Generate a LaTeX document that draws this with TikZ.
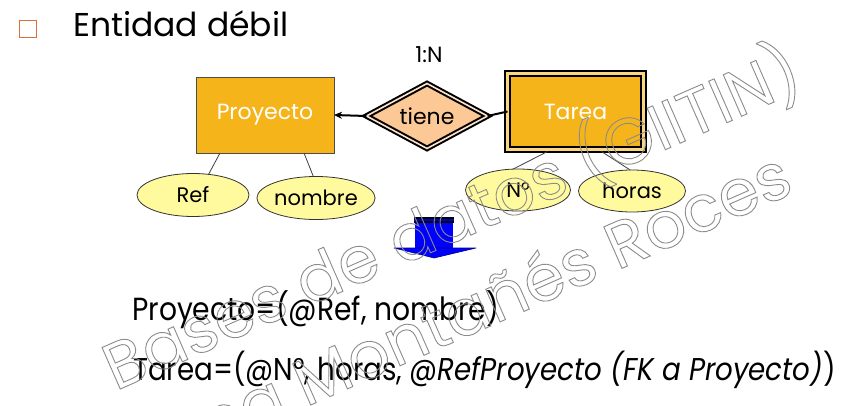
\documentclass[tikz,border=0pt]{standalone}
\usepackage{fontspec}
\setmainfont{Poppins}
\newfontfamily\bodyfont{Poppins}[FakeStretch=0.88]
\usetikzlibrary{shapes.geometric,calc,arrows.meta}
\definecolor{gold}{HTML}{F5B41A}
\definecolor{peach}{HTML}{FBC896}
\definecolor{attrfill}{HTML}{FFFA9E}
\definecolor{bulletcol}{HTML}{D9703C}
\definecolor{wmgray}{HTML}{8C8C8C}
\newcommand\outl[1]{\special{pdf:literal direct 1 Tr 0.9 w}#1\special{pdf:literal direct 0 Tr}}
\tikzset{
  entity/.style={rectangle, fill=gold, text=white, inner sep=0pt, outer sep=0pt,
    font=\fontsize{22}{26}\selectfont},
  attr/.style={ellipse, draw=black!80, line width=0.8pt, fill=attrfill, inner sep=0pt,
    outer sep=0pt, font=\fontsize{21}{25}\selectfont},
  rel/.style={diamond, aspect=1.9, fill=peach, draw=black, line width=2pt,
    double=peach!50!white, double distance=1.6pt, inner sep=0pt, outer sep=0pt,
    minimum width=121pt, minimum height=65pt, font=\fontsize{22}{26}\selectfont},
  attrline/.style={draw=black!75, line width=0.8pt},
  bodytext/.style={anchor=base west, inner sep=0pt, font=\bodyfont\fontsize{32}{38}\selectfont},
  watermark/.style={anchor=base east, inner sep=0pt, text=wmgray, rotate=23.7,
    font=\fontsize{65}{70}\selectfont}
}
\begin{document}
\begin{tikzpicture}[x=1pt,y=-1pt]
\useasboundingbox (0,0) rectangle (843,406);
\fill[white] (0,0) rectangle (843,406);

% title
\node[draw=bulletcol, line width=1.5pt, minimum size=17pt, inner sep=0pt] (bul) at (28,29) {};
\node[anchor=base west, inner sep=0pt, font=\fontsize{33}{40}\selectfont] (title) at (73,37) {Entidad débil};

% entities
\node[entity, draw=black!70, line width=0.8pt, minimum width=138pt, minimum height=76pt] (pr) at (265,115) {Proyecto};
\node[entity, draw=black, line width=2.4pt, double=gold!55!white, double distance=2.2pt,
  minimum width=136pt, minimum height=76pt] (ta) at (575.5,111.5) {Tarea};

% relationship
\node[rel] (ti) at (427,116) {tiene};
\node[inner sep=0pt, font=\fontsize{22}{26}\selectfont] (card) at (429,55) {1:N};

\draw[line width=2pt, -{Stealth[length=8pt,width=7pt]}] (ti.west) -- (pr.east);
\draw[line width=2pt] (ti.east) -- (ta.west);

% attributes
\node[attr, minimum width=112pt, minimum height=43pt] (ref) at (193,195) {Ref};
\node[attr, minimum width=111pt, minimum height=43pt] (nom) at (316,198) {nombre};
\node[attr, minimum width=105pt, minimum height=42pt] (num) at (518,190) {N°};
\node[attr, minimum width=107pt, minimum height=42pt] (hor) at (632,191) {horas};

\draw[attrline] ($(pr.south west)+(24,0)$) -- (ref.53);
\draw[attrline] ($(pr.south west)+(108,0)$) -- (nom.97);
\draw[attrline] ($(ta.south west)+(40,2)$) -- (num.103);
\draw[attrline] ($(ta.south west)+(94,2)$) -- (hor.95);

% blue arrow
\fill[blue] (415,223) rectangle (453,248);
\fill[black] (414,217) rectangle (454,219.5);
\fill[blue!80!black] (414,219.5) rectangle (454,221.5);
\fill[black] (414,221.5) rectangle (454,223);
\filldraw[fill=blue, draw=blue!50!black, line width=0.6pt, line join=round] (394,248) -- (476,248) -- (434,258) -- cycle;

% relational text
\node[bodytext] (t1) at (132,320) {Proyecto=(@Ref, nombre)};
\node[bodytext, font=\bodyfont\fontsize{31.5}{38}\selectfont] (t2) at (133,380) {Tarea=(@N°, horas, @\textit{RefProyecto (FK a Proyecto)})};

% watermark
\node[watermark] (wm1) at (806,88) {\outl{Bases de datos (GIITIN)}};
\node[watermark] (wm2) at (796,192) {\outl{Elena Montañés Roces}};
\end{tikzpicture}
\end{document}
